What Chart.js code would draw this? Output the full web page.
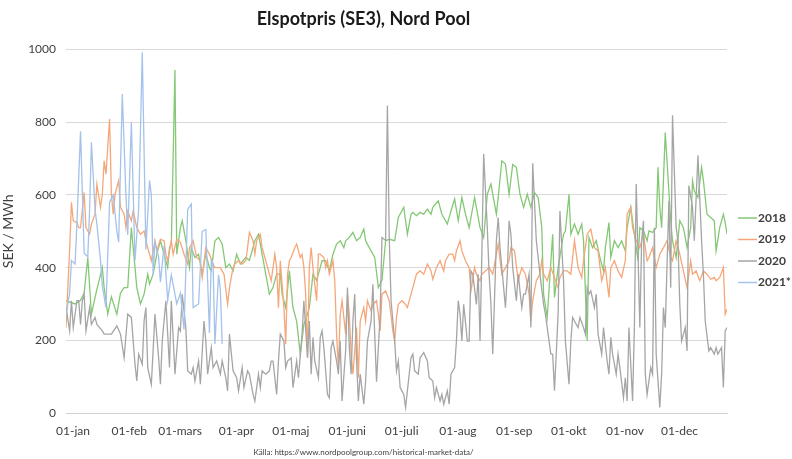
<!DOCTYPE html>
<html>
<head>
<meta charset="utf-8">
<script src="https://cdn.jsdelivr.net/npm/chart.js@4.4.1/dist/chart.umd.min.js"></script>
<style>
  html, body { margin: 0; padding: 0; background: #fff; }
  #wrap { width: 792px; height: 459px; }
</style>
</head>
<body>
<div id="wrap"><canvas id="elchart"></canvas></div>
<script>
// day of year (0 = 1 jan) and SEK/MWh
var monthStarts = [0, 31, 59, 90, 120, 151, 181, 212, 243, 273, 304, 334];
var monthLabels = ['01-jan', '01-feb', '01-mars', '01-apr', '01-maj', '01-juni', '01-juli', '01-aug', '01-sep', '01-okt', '01-nov', '01-dec'];
var yTicks = [0, 200, 400, 600, 800, 1000];

var prices2018 = [[0,309],[5,300],[8,310],[10,330],[12,428],[14,272],[17,340],[20,400],[21,345],[23,272],[25,320],[28,272],[30,330],[32,345],[34,345],[36,510],[37,455],[39,345],[41,300],[43,327],[45,382],[46,355],[48,382],[50,437],[52,474],[54,437],[56,400],[57,455],[58,465],[60,944],[61,437],[63,510],[64,529],[66,474],[68,400],[69,455],[71,428],[73,437],[75,382],[77,437],[79,400],[80,391],[82,474],[84,483],[86,465],[88,400],[90,410],[92,391],[94,437],[96,410],[99,428],[101,420],[104,474],[106,492],[108,437],[110,382],[112,327],[114,345],[116,382],[118,382],[119,327],[121,290],[123,391],[125,290],[127,253],[129,162],[131,244],[133,272],[134,290],[136,382],[138,365],[140,400],[141,419],[143,419],[145,391],[147,437],[149,465],[151,474],[153,455],[154,474],[156,483],[158,497],[160,474],[162,483],[164,506],[165,474],[167,455],[170,428],[172,345],[174,365],[176,474],[178,478],[181,474],[183,538],[186,566],[188,492],[190,547],[191,552],[193,543],[195,552],[197,547],[199,561],[201,547],[202,566],[205,584],[207,547],[210,520],[212,556],[214,589],[216,529],[218,593],[220,547],[222,510],[225,593],[226,566],[228,510],[230,483],[232,602],[234,630],[237,547],[238,593],[240,694],[242,685],[244,602],[246,684],[248,676],[250,602],[252,566],[254,602],[256,566],[258,607],[260,593],[262,510],[263,327],[265,263],[268,492],[269,318],[271,400],[274,492],[275,500],[277,602],[278,492],[280,520],[282,492],[284,520],[285,474],[287,198],[288,483],[290,455],[292,474],[294,428],[296,391],[297,455],[299,524],[300,428],[302,474],[304,455],[306,474],[308,446],[309,510],[311,566],[313,492],[315,419],[316,510],[318,501],[320,474],[321,501],[323,497],[325,510],[326,676],[327,566],[328,510],[330,772],[333,529],[334,474],[336,428],[338,529],[340,510],[342,455],[344,510],[345,639],[346,611],[348,593],[350,676],[351,640],[353,547],[355,538],[357,529],[358,446],[360,510],[362,547],[363,524],[364,492]];

var prices2019 = [[0,235],[2,450],[3,580],[4,529],[6,524],[7,510],[8,510],[10,607],[11,510],[13,492],[14,520],[16,547],[17,630],[19,566],[20,602],[21,694],[22,657],[24,809],[25,602],[26,547],[27,602],[29,639],[30,566],[32,547],[33,510],[34,556],[36,529],[37,556],[39,510],[41,492],[43,501],[44,474],[45,455],[47,419],[49,474],[50,446],[52,478],[54,474],[55,437],[56,419],[58,474],[59,437],[61,478],[63,469],[65,437],[67,410],[68,455],[70,474],[72,428],[74,419],[75,373],[77,455],[79,437],[81,410],[82,400],[85,400],[87,382],[89,299],[90,345],[92,400],[93,410],[95,419],[97,410],[99,419],[100,455],[101,497],[103,474],[104,437],[105,474],[107,492],[108,455],[110,419],[112,382],[113,364],[115,437],[116,400],[117,290],[118,419],[120,290],[121,189],[122,382],[123,419],[124,428],[126,455],[127,465],[129,428],[130,437],[131,400],[132,327],[133,152],[134,400],[135,455],[136,400],[138,309],[139,437],[140,437],[142,428],[143,400],[144,419],[145,382],[147,419],[148,364],[149,217],[150,125],[151,271],[152,309],[154,217],[155,327],[156,271],[157,162],[158,107],[160,235],[161,97],[162,253],[164,290],[165,253],[166,309],[168,281],[169,299],[171,309],[172,272],[173,226],[174,327],[176,336],[178,309],[180,226],[181,198],[182,263],[183,299],[185,309],[187,299],[188,290],[190,327],[191,345],[193,382],[195,391],[197,382],[199,410],[201,391],[202,368],[204,400],[206,419],[208,391],[209,419],[211,437],[213,437],[214,419],[215,446],[217,474],[218,446],[220,419],[222,400],[223,336],[225,400],[226,382],[228,364],[229,382],[231,391],[233,400],[235,382],[237,437],[238,465],[240,382],[242,400],[244,419],[245,455],[247,446],[249,364],[250,382],[251,400],[253,382],[255,327],[256,253],[257,309],[259,364],[261,382],[262,419],[263,382],[265,364],[267,400],[269,373],[271,345],[272,373],[274,391],[276,391],[278,382],[280,474],[282,400],[284,373],[285,419],[287,492],[289,506],[291,455],[293,446],[295,364],[297,400],[299,318],[300,400],[302,419],[304,391],[306,373],[308,419],[309,547],[311,566],[312,510],[314,474],[316,455],[318,492],[320,419],[321,428],[323,455],[325,400],[327,437],[329,455],[331,474],[333,428],[334,419],[336,474],[338,437],[340,391],[342,345],[344,419],[345,382],[347,391],[349,364],[351,391],[353,382],[355,368],[357,373],[358,364],[360,373],[362,400],[363,272],[364,286]];

var prices2020 = [[0,290],[2,226],[3,309],[4,235],[6,309],[7,309],[8,244],[9,309],[10,327],[11,226],[13,290],[14,244],[16,263],[17,244],[20,226],[21,217],[23,217],[25,217],[28,240],[30,217],[32,152],[34,272],[36,263],[38,134],[39,88],[40,162],[42,134],[43,253],[44,290],[45,125],[47,79],[49,272],[51,152],[52,79],[53,198],[55,309],[57,125],[58,309],[60,107],[62,235],[63,226],[64,327],[66,235],[67,116],[69,107],[70,125],[71,88],[73,143],[74,79],[76,253],[77,198],[78,107],[80,180],[81,125],[83,143],[85,107],[86,143],[88,97],[89,61],[90,217],[92,116],[94,97],[95,61],[97,125],[98,70],[100,116],[101,107],[103,51],[104,33],[106,107],[107,70],[108,116],[110,107],[112,116],[113,143],[114,143],[116,51],[117,143],[118,217],[120,198],[121,125],[122,143],[124,152],[125,70],[127,143],[128,97],[130,217],[131,309],[133,152],[134,253],[135,107],[136,208],[137,143],[139,97],[140,208],[141,226],[142,180],[144,51],[145,42],[146,180],[147,198],[149,143],[150,107],[151,198],[152,33],[154,171],[155,345],[156,180],[157,107],[158,253],[159,327],[160,143],[161,33],[162,107],[164,24],[165,88],[166,198],[168,253],[169,354],[170,217],[171,86],[173,272],[174,483],[176,475],[177,846],[178,483],[179,309],[181,198],[182,116],[183,143],[184,70],[186,51],[187,15],[189,107],[190,152],[191,162],[192,116],[194,107],[195,152],[197,166],[199,143],[200,97],[202,88],[203,42],[204,70],[206,33],[207,51],[208,24],[210,61],[211,24],[212,107],[214,125],[215,198],[216,309],[217,272],[218,198],[219,299],[221,198],[222,198],[223,391],[224,382],[226,299],[227,382],[228,198],[229,437],[230,713],[232,510],[233,382],[234,300],[235,162],[237,474],[238,538],[239,455],[240,400],[242,290],[243,382],[244,529],[245,492],[246,400],[248,309],[249,382],[251,290],[252,327],[253,327],[255,382],[256,235],[257,687],[259,474],[261,382],[263,299],[264,272],[265,235],[267,162],[268,162],[269,61],[271,272],[272,556],[274,364],[275,198],[277,79],[278,198],[279,263],[280,253],[282,235],[283,263],[285,235],[286,217],[287,345],[288,327],[289,336],[291,290],[292,327],[293,217],[295,162],[296,235],[298,143],[299,107],[300,208],[301,162],[303,107],[304,162],[305,125],[307,42],[308,97],[309,33],[310,235],[312,33],[313,235],[314,630],[315,437],[316,235],[317,474],[318,529],[319,107],[320,51],[322,125],[323,107],[324,510],[325,162],[327,15],[328,107],[329,290],[330,235],[332,584],[333,345],[334,819],[336,510],[337,474],[338,299],[339,198],[341,235],[342,171],[343,626],[345,566],[346,474],[348,709],[350,474],[351,382],[352,253],[354,171],[355,180],[357,162],[358,180],[359,162],[361,180],[362,70],[363,226],[364,235]];

var prices2021 = [[0,270],[2,330],[3,420],[5,410],[6,520],[8,775],[10,440],[12,430],[13,560],[14,745],[16,560],[17,520],[19,420],[20,350],[22,290],[24,580],[26,600],[28,500],[29,470],[31,878],[33,600],[34,490],[36,800],[38,420],[40,560],[42,993],[44,450],[46,640],[47,600],[48,380],[49,470],[51,430],[52,360],[54,460],[56,310],[58,380],[61,300],[63,330],[65,230],[67,560],[69,575],[70,290],[73,300],[75,500],[77,505],[79,220],[80,420],[81,410],[82,190],[84,380],[85,340],[86,190]];

var seriesNames = ['2018', '2019', '2020', '2021*'];
var seriesColors = ['#84c875', '#f5a779', '#a5a5a5', '#a4c2ea'];

function toPoints(arr) {
  return arr.map(function (p) { return { x: p[0], y: p[1] }; });
}

var allSeries = [prices2018, prices2019, prices2020, prices2021];

// later years drawn on top, like the excel original
var datasets = allSeries.map(function (s, i) {
  return {
    label: seriesNames[i],
    data: toPoints(s),
    borderColor: seriesColors[i],
    backgroundColor: seriesColors[i],
    borderWidth: 1.3,
    pointRadius: 0,
    tension: 0,
    fill: false,
    order: allSeries.length - i
  };
});

var sideLegend = {
  id: 'sideLegend',
  afterDraw: function (chart) {
    var ctx = chart.ctx;
    ctx.save();
    ctx.font = 'bold 12px Lato';
    ctx.textBaseline = 'middle';
    chart.data.datasets.forEach(function (ds, i) {
      var y = 218 + i * 21.5;
      ctx.strokeStyle = ds.borderColor;
      ctx.lineWidth = 1.5;
      ctx.beginPath();
      ctx.moveTo(738, y);
      ctx.lineTo(757, y);
      ctx.stroke();
      ctx.fillStyle = '#404040';
      ctx.fillText(ds.label, 758, y);
    });
    ctx.restore();
  }
};

var ctx = document.getElementById('elchart');

var myChart = new Chart(ctx, {
  type: 'line',
  data: { datasets: datasets },
  plugins: [sideLegend],
  options: {
    responsive: true,
    maintainAspectRatio: false,
    animation: false,
    layout: {
      padding: { left: 0, right: 65, top: 0, bottom: 0 }
    },
    plugins: {
      legend: { display: false },
      tooltip: { enabled: false },
      title: {
        display: true,
        text: 'Elspotpris (SE3), Nord Pool',
        color: '#1a1a1a',
        font: { family: 'Lato', size: 18, weight: 'bold' },
        padding: { top: 8, bottom: 20 }
      },
      subtitle: {
        display: true,
        position: 'bottom',
        text: 'Källa: https://www.nordpoolgroup.com/historical-market-data/',
        color: '#404040',
        font: { family: 'Lato', size: 8 },
        padding: { top: 6, bottom: 2 }
      }
    },
    scales: {
      x: {
        type: 'linear',
        min: 0,
        max: 364,
        grid: { display: false },
        border: { display: true, color: '#d0d0d0' },
        afterBuildTicks: function (axis) {
          axis.ticks = monthStarts.map(function (d) { return { value: d }; });
        },
        ticks: {
          autoSkip: false,
          maxRotation: 0,
          labelOffset: 7,
          color: '#404040',
          font: { family: 'Lato', size: 12 },
          callback: function (value) {
            return monthLabels[monthStarts.indexOf(value)];
          }
        }
      },
      y: {
        min: 0,
        max: 1000,
        afterBuildTicks: function (axis) {
          axis.ticks = yTicks.map(function (v) { return { value: v }; });
        },
        afterFit: function (axis) { axis.width = 66; },
        grid: { color: '#d9d9d9', drawTicks: false },
        border: { display: false },
        ticks: {
          padding: 10,
          color: '#404040',
          font: { family: 'Lato', size: 12 },
          callback: function (value) { return String(value); }
        },
        title: {
          display: true,
          text: 'SEK / MWh',
          color: '#404040',
          font: { family: 'Lato', size: 14 },
          padding: { top: 0, bottom: 4 }
        }
      }
    }
  }
});
</script>
</body>
</html>
